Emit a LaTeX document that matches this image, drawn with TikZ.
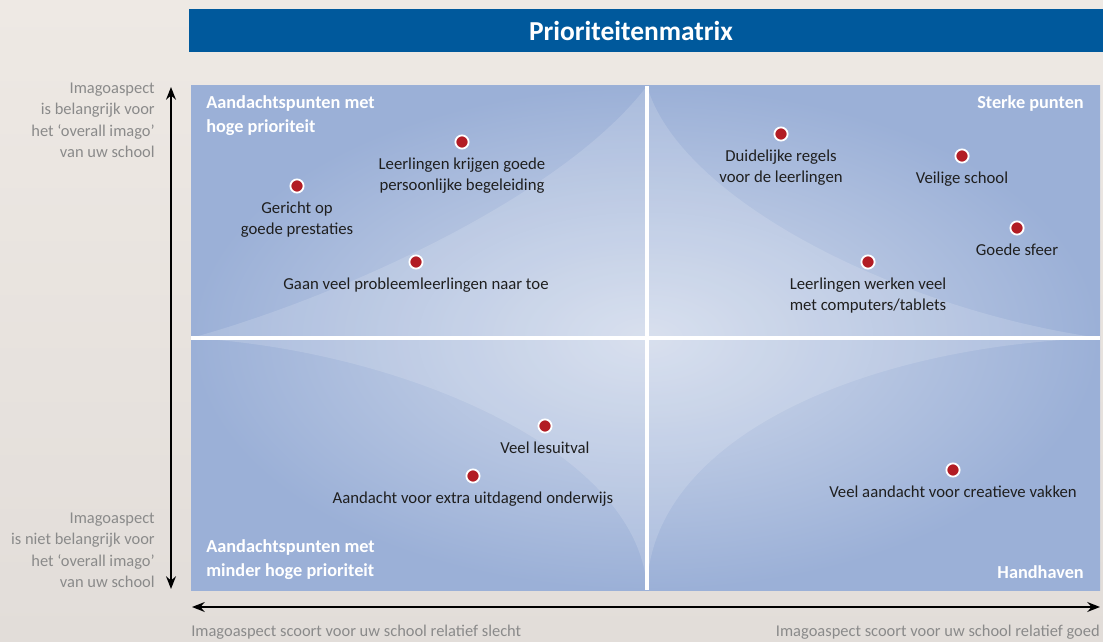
\documentclass[tikz,border=0pt]{standalone}
\usepackage{fontspec}
\setmainfont{Carlito}
\usetikzlibrary{positioning,arrows.meta}

\definecolor{titleblue}{RGB}{0,89,156}
\definecolor{bgtop}{RGB}{238,233,228}
\definecolor{bgbottom}{RGB}{226,221,217}
\definecolor{quadblue}{RGB}{155,176,215}
\definecolor{quadlight}{RGB}{210,219,236}
\definecolor{dotred}{RGB}{178,28,36}
\definecolor{sidegray}{RGB}{138,138,138}

\tikzset{
  dot/.style={circle, fill=dotred, draw=white, line width=1.3pt, minimum size=9.4pt, inner sep=0pt},
  lbl/.style={align=center, inner sep=0pt, text=black!88, font=\fontsize{11.9}{15}\selectfont},
  qtitle/.style={inner sep=0pt, text=white, font=\bfseries\fontsize{13}{17}\selectfont},
  sidelbl/.style={inner sep=0pt, text=sidegray, font=\fontsize{11.7}{15}\selectfont},
  axis/.style={line width=1.2pt, {Stealth[length=9pt,width=7pt]}-{Stealth[length=9pt,width=7pt]}}
}

\begin{document}
\begin{tikzpicture}[x=0.025cm, y=-0.025cm]
    % achtergrond
    \useasboundingbox (0,0) rectangle (1103,642);
    \shade[top color=bgtop, bottom color=bgbottom] (0,0) rectangle (1103,642);

    % titelbalk
    \fill[titleblue] (189,9) rectangle (1103,52);
    \node[text=white, font=\bfseries\fontsize{19.5}{22}\selectfont] (title) at (631,31) {Prioriteitenmatrix};

    % matrix
    \shade[inner color=quadlight, outer color=quadblue] (191,86) rectangle (1100,590);
    \fill[white, opacity=0.15] (191,338) .. controls (330,300) and (560,200) .. (647,86)
        .. controls (680,200) and (900,310) .. (1100,338)
        .. controls (860,346) and (649,440) .. (647,590)
        .. controls (640,450) and (400,350) .. cycle;
    \draw[white, line width=2.8pt] (647,86) -- (647,590);
    \draw[white, line width=2.8pt] (191,338) -- (1100,338);

    % kwadranten
    \node[qtitle, anchor=north west, align=left] (q1) at (206,95) {Aandachtspunten met\\hoge prioriteit};
    \node[qtitle, anchor=north east] (q2) at (1084,95) {Sterke punten};
    \node[qtitle, anchor=north west, align=left] (q3) at (206,539) {Aandachtspunten met\\minder hoge prioriteit};
    \node[qtitle, anchor=north east] (q4) at (1084,565) {Handhaven};

    % punten
    \node[dot] (begeleiding) at (462,142) {};
    \node[lbl, below=5.5pt of begeleiding] {Leerlingen krijgen goede\\persoonlijke begeleiding};
    \node[dot] (prestaties) at (297,186) {};
    \node[lbl, below=5.5pt of prestaties] {Gericht op\\goede prestaties};
    \node[dot] (probleem) at (416,262) {};
    \node[lbl, below=5.5pt of probleem] {Gaan veel probleemleerlingen naar toe};
    \node[dot] (regels) at (781,134) {};
    \node[lbl, below=5.5pt of regels] {Duidelijke regels\\voor de leerlingen};
    \node[dot] (veilig) at (962,156) {};
    \node[lbl, below=5.5pt of veilig] {Veilige school};
    \node[dot] (sfeer) at (1017,228) {};
    \node[lbl, below=5.5pt of sfeer] {Goede sfeer};
    \node[dot] (computers) at (868,262) {};
    \node[lbl, below=5.5pt of computers] {Leerlingen werken veel\\met computers/tablets};
    \node[dot] (lesuitval) at (545,426) {};
    \node[lbl, below=5.5pt of lesuitval] {Veel lesuitval};
    \node[dot] (uitdagend) at (473,476) {};
    \node[lbl, below=5.5pt of uitdagend] {Aandacht voor extra uitdagend onderwijs};
    \node[dot] (creatief) at (953,470) {};
    \node[lbl, below=5.5pt of creatief] {Veel aandacht voor creatieve vakken};

    % assen
    \coordinate (ytop) at (171,87);
    \coordinate (ybot) at (171,589);
    \coordinate (xleft) at (192,607);
    \coordinate (xright) at (1100,607);
    \draw[axis] (ybot) -- (ytop);
    \draw[axis] (xleft) -- (xright);

    \node[sidelbl, anchor=north east, align=right] (hoog) at (155,83) {Imagoaspect\\is belangrijk voor\\het ‘overall imago’\\van uw school};
    \node[sidelbl, anchor=north east, align=right] (laag) at (155,513) {Imagoaspect\\is niet belangrijk voor\\het ‘overall imago’\\van uw school};
    \node[sidelbl, anchor=west] (slecht) at (191,632) {Imagoaspect scoort voor uw school relatief slecht};
    \node[sidelbl, anchor=east] (goed) at (1100,632) {Imagoaspect scoort voor uw school relatief goed};
\end{tikzpicture}
\end{document}
